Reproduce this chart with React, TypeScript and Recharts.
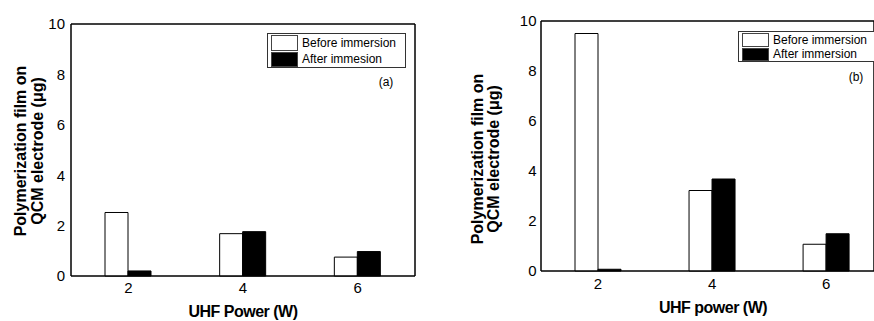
import React from 'react';
import { BarChart, Bar, XAxis, YAxis, ReferenceArea } from 'recharts';

// ---- data ----
const powers = [2, 4, 6];
const beforeA = [2.52, 1.68, 0.75];
const afterA = [0.2, 1.76, 0.97];
const beforeB = [9.5, 3.22, 1.07];
const afterB = [0.07, 3.68, 1.49];

const xMajor = [2, 4, 6];
const yMajor = [0, 2, 4, 6, 8, 10];

const namesA = ['Before immersion', 'After immesion'];
const namesB = ['Before immersion', 'After immersion'];
const seriesColors = ['#ffffff', '#000000'];
const yLabelLines = ['Polymerization film on', 'QCM electrode (μg)'];
const xLabelA = 'UHF Power (W)';
const xLabelB = 'UHF power (W)';

const dataA = powers.map((p, i) => ({ power: p, before: beforeA[i], after: afterA[i] }));
const dataB = powers.map((p, i) => ({ power: p, before: beforeB[i], after: afterB[i] }));

const FONT = "'Liberation Sans', Arial, Helvetica, sans-serif";
const XA_DOMAIN: [number, number] = [1, 7];
const XB_DOMAIN: [number, number] = [1, 6.84];
const Y_DOMAIN: [number, number] = [0, 10];
const TICK_STYLE = { fill: '#000', fontSize: 15, fontFamily: FONT };
const marginA = { top: 24, right: 22, left: 0, bottom: 0 };
const marginB = { top: 21, right: 0, left: 0, bottom: 0 };

function Panel(p: any) {
  return (
    <div style={{ position: 'absolute', left: p.left, top: 0 }}>
      <BarChart width={437} height={321} data={p.data} barGap={0} margin={p.margin}>
        <XAxis xAxisId="xt" orientation="top" mirror height={1} type="number" dataKey="power" domain={p.xDomain} ticks={xMajor} tick={false} tickSize={5} stroke="#000" />
        <YAxis yAxisId="yr" orientation="right" mirror width={1} type="number" domain={Y_DOMAIN} ticks={yMajor} tick={false} tickSize={5} stroke="#000" />
        <XAxis
          xAxisId="x"
          type="number"
          dataKey="power"
          domain={p.xDomain}
          ticks={xMajor}
          height={p.xAxisHeight}
          tickLine={false}
          tickMargin={p.xTickGap - 6}
          tick={TICK_STYLE}
          stroke="#000"
        />
        <YAxis
          yAxisId="y"
          type="number"
          domain={Y_DOMAIN}
          ticks={yMajor}
          width={p.yAxisWidth}
          tickLine={false}
          tickSize={3}
          tickMargin={p.yTickGap - 3}
          tick={TICK_STYLE}
          stroke="#000"
        />
        <ReferenceArea xAxisId="x" yAxisId="y" x1={p.xDomain[0]} x2={p.xDomain[1]} y1={0} y2={10} fill="none" stroke="#000" />
        <Bar xAxisId="x" yAxisId="y" dataKey="before" name={p.names[0]} fill={seriesColors[0]} stroke="#000" barSize={23} isAnimationActive={false} />
        <Bar xAxisId="x" yAxisId="y" dataKey="after" name={p.names[1]} fill={seriesColors[1]} stroke="#000" barSize={23} isAnimationActive={false} />
      </BarChart>
    </div>
  );
}

function LegendBox({ left, top, row, names }: { left: number; top: number; row: number; names: string[] }) {
  return (
    <div style={{ position: 'absolute', left, top, border: '1px solid #333', background: '#fff', width: 139, boxSizing: 'border-box', paddingLeft: 3 }}>
      {names.map((n, i) => (
        <div key={i} style={{ height: row, lineHeight: row + 'px', whiteSpace: 'nowrap', fontSize: 12, fontFamily: FONT, color: '#000' }}>
          <span style={{ display: 'inline-block', width: 27, height: row - 1, boxSizing: 'border-box', border: '1px solid #444', background: seriesColors[i], verticalAlign: 'middle' }} />
          <span style={{ marginLeft: 4, verticalAlign: 'middle' }}>{n}</span>
        </div>
      ))}
    </div>
  );
}

const boldText = { position: 'absolute' as const, fontFamily: FONT, fontWeight: 'bold' as const, fontSize: 16, lineHeight: '16px', whiteSpace: 'nowrap' as const, color: '#000' };

function YTitle({ cx, cy, text }: { cx: number; cy: number; text: string }) {
  return <div style={{ ...boldText, left: cx, top: cy, transform: 'translate(-50%, -50%) rotate(-90deg)' }}>{text}</div>;
}

function XTitle({ cx, top, text }: { cx: number; top: number; text: string }) {
  return <div style={{ ...boldText, left: cx, top, letterSpacing: -0.5, transform: 'translateX(-50%)' }}>{text}</div>;
}

function Tag({ cx, top, text }: { cx: number; top: number; text: string }) {
  return (
    <div style={{ position: 'absolute', left: cx, top, transform: 'translateX(-50%)', fontFamily: FONT, fontSize: 12, lineHeight: '12px', color: '#000' }}>
      {text}
    </div>
  );
}

export default function App() {
  return (
    <div style={{ position: 'absolute', left: 0, top: 0, width: 874, height: 321, overflow: 'hidden', background: '#fff' }}>
      <Panel left={0} margin={marginA} xDomain={XA_DOMAIN} yAxisWidth={71} xAxisHeight={45} yTickGap={6} xTickGap={6} data={dataA} names={namesA} />
      <Panel left={437} margin={marginB} xDomain={XB_DOMAIN} yAxisWidth={104} xAxisHeight={50} yTickGap={4.5} xTickGap={7} data={dataB} names={namesB} />
      <LegendBox left={267} top={33} row={16.5} names={namesA} />
      <LegendBox left={738} top={31} row={14.5} names={namesB} />
      <YTitle cx={20.5} cy={151} text={yLabelLines[0]} />
      <YTitle cx={37.5} cy={151} text={yLabelLines[1]} />
      <XTitle cx={243} top={303.5} text={xLabelA} />
      <Tag cx={386} top={76} text="(a)" />
      <YTitle cx={477.5} cy={159} text={yLabelLines[0]} />
      <YTitle cx={493.5} cy={159} text={yLabelLines[1]} />
      <XTitle cx={713} top={299.5} text={xLabelB} />
      <Tag cx={856} top={71} text="(b)" />
    </div>
  );
}
